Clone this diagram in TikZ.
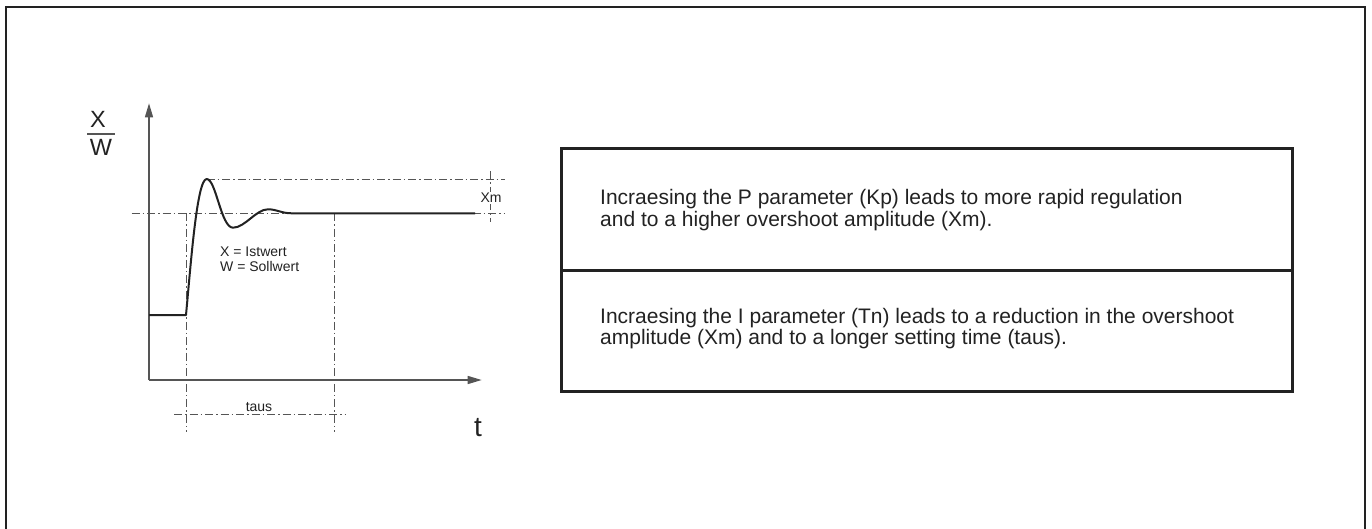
\documentclass[tikz,border=0pt]{standalone}
\usepackage{fontspec}
\setmainfont{Liberation Sans}
\usetikzlibrary{arrows.meta}
\definecolor{ink}{HTML}{222222}
\definecolor{axisgray}{HTML}{555555}
\tikzset{
  frame/.style={line width=2pt, ink},
  tablebox/.style={line width=3pt, ink},
  axisline/.style={line width=1.4pt, axisgray, -{Triangle[length=14pt,width=8pt]}},
  dashdotline/.style={line width=0.9pt, axisgray, dash pattern=on 8pt off 3pt on 1.5pt off 3pt},
  response/.style={line width=2pt, ink},
  smalllabel/.style={font=\fontsize{14}{15}\selectfont, text=ink, inner sep=0pt},
  bigtext/.style={font=\fontsize{21}{21.5}\selectfont, text=ink, inner sep=0pt, align=left, anchor=west},
}
\begin{document}
\begin{tikzpicture}[x=1pt,y=-1pt]
\useasboundingbox (0,0) rectangle (1372,529);
% outer frame (open at the bottom)
\draw[frame] (5.5,530) -- (5.5,7.5) -- (1365,7.5) -- (1365,530);

% table
\draw[tablebox] (561,149) rectangle (1292,391);
\draw[tablebox] (561,270) -- (1292,270);
\node[bigtext] (txtP) at (600,210) {Incraesing the P parameter (Kp) leads to more rapid regulation\\and to a higher overshoot amplitude (Xm).};
\node[bigtext] (txtI) at (600,328.5) {Incraesing the I parameter (Tn) leads to a reduction in the overshoot\\amplitude (Xm) and to a longer setting time (taus).};

% chart guide lines
\coordinate (setL) at (131.7,213.3);
\coordinate (setR) at (505,213.3);
\coordinate (peakL) at (206.7,179);
\coordinate (peakR) at (505,179);
\draw[dashdotline] (setL) -- (setR);
\draw[dashdotline] (peakL) -- (peakR);
\coordinate (v1t) at (186,213.3);
\coordinate (v1b) at (186,431.7);
\coordinate (v2t) at (334.3,213.3);
\coordinate (v2b) at (334.3,431.7);
\draw[dashdotline] (v1t) -- (v1b);
\draw[dashdotline] (v2t) -- (v2b);
\coordinate (tauL) at (174,414);
\coordinate (tauR) at (345,414);
\draw[dashdotline] (tauL) -- (tauR);
\coordinate (xmT) at (490.5,171.5);
\coordinate (xmB) at (490.5,222);
\draw[dashdotline] (xmT) -- (xmB);

% axes
\coordinate (origin) at (149,380);
\coordinate (ytip) at (149,103.3);
\coordinate (xtip) at (481.7,380);
\draw[axisline] (origin) -- (ytip);
\draw[axisline] (origin) -- (xtip);

% response curve
\draw[response, line join=round] (149,315) -- (186,315)
  .. controls (191,262) and (197,179) .. (206.7,179)
  .. controls (216,179) and (221,227.7) .. (233,227.7)
  .. controls (245,227.7) and (256,209.3) .. (268,209.3)
  .. controls (277,209.3) and (281,213.3) .. (292,213.3)
  -- (475,213.3);

% labels
\node[smalllabel, fill=white, inner sep=1pt] (xm) at (491,198) {Xm};
\node[smalllabel, anchor=base west, align=left] (legend) at (220,271.5) {X = Istwert\\W = Sollwert};
\node[smalllabel, anchor=base] (taus) at (259,411) {taus};
\node[font=\fontsize{28}{28}\selectfont, text=ink, inner sep=0pt, anchor=base] (tlabel) at (478,436.7) {t};
\node[font=\fontsize{23.5}{24}\selectfont, text=ink, inner sep=0pt, anchor=base] (xlabel) at (98,127.7) {X};
\node[font=\fontsize{23.5}{24}\selectfont, text=ink, inner sep=0pt, anchor=base] (wlabel) at (101,155.7) {W};
\coordinate (barL) at (87,134);
\coordinate (barR) at (115,134);
\draw[line width=1.4pt, axisgray] (barL) -- (barR);
\end{tikzpicture}
\end{document}
